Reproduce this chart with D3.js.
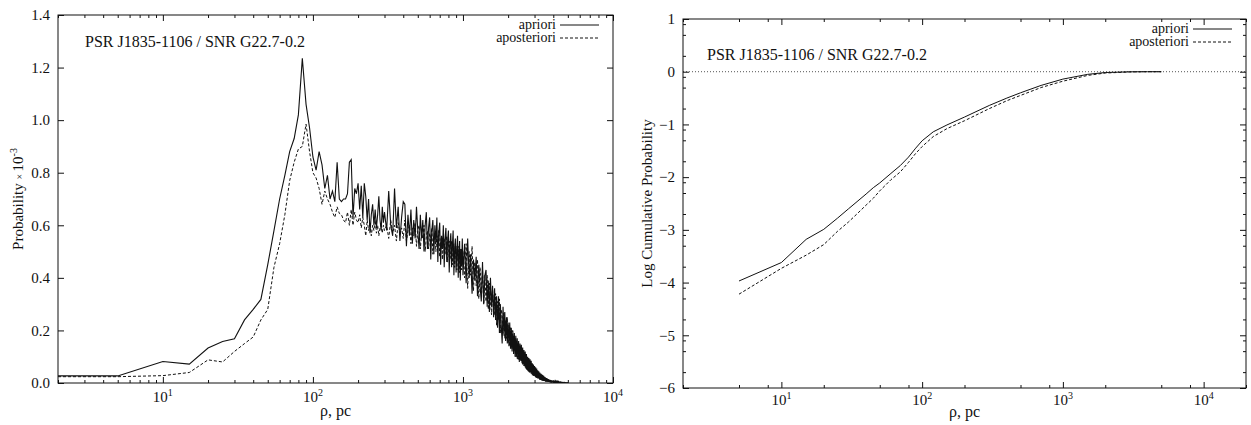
<!DOCTYPE html>
<html>
<head>
<meta charset="utf-8">
<script src="https://cdn.jsdelivr.net/npm/d3@7"></script>
<style>
  body { margin: 0; background: #fff; }
  svg text { font-family: "Liberation Serif", "DejaVu Serif", serif; fill: #111; }
</style>
</head>
<body>
<svg id="chart" width="1251" height="425" font-family="Liberation Serif, DejaVu Serif, serif"></svg>
<script>
// sampling grid of rho (pc) for the probability curves
var rhoFine = [2].concat(d3.range(5, 301, 5));
var rhoMid = d3.range(310, 1001, 10);
var rhoCoarse = d3.range(1025, 5001, 25);

// probability x 10^-3, apriori (solid)
var aprioriFine = [0.027, 0.027, 0.082, 0.072, 0.133, 0.158, 0.168, 0.24, 0.28, 0.318,
  0.45, 0.58, 0.70, 0.79, 0.88, 0.93, 1.02, 1.235, 1.06, 0.97,
  0.86, 0.81, 0.88, 0.83, 0.74, 0.79, 0.70, 0.73, 0.69, 0.84,
  0.70, 0.69, 0.70, 0.70, 0.72, 0.84, 0.85, 0.63, 0.74, 0.72,
  0.76, 0.66, 0.75, 0.63, 0.76, 0.71, 0.62, 0.70, 0.57, 0.64,
  0.68, 0.60, 0.66, 0.59, 0.64, 0.71, 0.62, 0.58, 0.67, 0.61, 0.65];
var aprioriMid = [0.58, 0.73, 0.60, 0.56, 0.74, 0.59, 0.67, 0.54, 0.63, 0.69,
  0.68, 0.52, 0.64, 0.56, 0.66, 0.53, 0.62, 0.55, 0.67, 0.58,
  0.51, 0.64, 0.55, 0.62, 0.50, 0.60, 0.65, 0.51, 0.59, 0.63,
  0.47, 0.58, 0.62, 0.49, 0.60, 0.53, 0.63, 0.46, 0.57, 0.61,
  0.45, 0.56, 0.51, 0.60, 0.44, 0.55, 0.59, 0.46, 0.54, 0.58,
  0.42, 0.53, 0.57, 0.44, 0.52, 0.58, 0.41, 0.51, 0.55, 0.42,
  0.50, 0.56, 0.40, 0.49, 0.54, 0.39, 0.51, 0.45, 0.55, 0.41];
var aprioriCoarse = [
  0.53, 0.38, 0.55, 0.40, 0.49, 0.34, 0.47, 0.39,
  0.48, 0.33, 0.45, 0.37, 0.31, 0.46, 0.30, 0.41,
  0.43, 0.29, 0.39, 0.27, 0.40, 0.29, 0.37, 0.25,
  0.36, 0.24, 0.33, 0.21, 0.33, 0.19, 0.30, 0.22,
  0.15, 0.29, 0.19, 0.27, 0.16, 0.25, 0.15, 0.23,
  0.14, 0.23, 0.13, 0.21, 0.12, 0.20, 0.11, 0.19,
  0.10, 0.18, 0.10, 0.17, 0.09, 0.16, 0.08, 0.15,
  0.085, 0.145, 0.075, 0.135, 0.07, 0.125, 0.065, 0.12,
  0.055, 0.11, 0.05, 0.10, 0.045, 0.095, 0.04, 0.09,
  0.04, 0.085, 0.035, 0.075, 0.03, 0.07, 0.028, 0.065,
  0.025, 0.06, 0.022, 0.055, 0.02, 0.048, 0.018, 0.045,
  0.015, 0.04, 0.013, 0.036, 0.012, 0.033, 0.01, 0.03,
  0.009, 0.027, 0.008, 0.024, 0.007, 0.021, 0.006, 0.019,
  0.005, 0.017, 0.004, 0.015, 0.004, 0.013, 0.003, 0.012,
  0.003, 0.011, 0.002, 0.010, 0.002, 0.009, 0.002, 0.008,
  0.001, 0.007, 0.001, 0.006, 0.001, 0.006, 0.0, 0.005,
  0.0, 0.005, 0.0, 0.004, 0.0, 0.004, 0.0, 0.003,
  0.0, 0.003, 0.0, 0.003, 0.0, 0.002, 0.0, 0.002,
  0.0, 0.002, 0.0, 0.001, 0.0, 0.002, 0.0, 0.001,
  0.0, 0.001, 0.0, 0.001, 0.0, 0.0, 0.001, 0.0];

// probability x 10^-3, aposteriori (dashed)
var aposterioriFine = [0.024, 0.024, 0.028, 0.040, 0.088, 0.080, 0.120, 0.150, 0.175, 0.240,
  0.280, 0.440, 0.530, 0.640, 0.770, 0.840, 0.890, 0.900, 0.985, 0.880,
  0.800, 0.780, 0.740, 0.680, 0.730, 0.700, 0.680, 0.650, 0.630, 0.670,
  0.645, 0.640, 0.620, 0.610, 0.650, 0.600, 0.660, 0.600, 0.650, 0.620,
  0.610, 0.640, 0.590, 0.630, 0.600, 0.560, 0.620, 0.580, 0.610, 0.560,
  0.600, 0.580, 0.620, 0.570, 0.600, 0.560, 0.590, 0.600, 0.570, 0.600, 0.580];
var aposterioriMid = [0.60, 0.55, 0.62, 0.57, 0.60, 0.54, 0.61, 0.57, 0.59, 0.55,
  0.62, 0.54, 0.58, 0.60, 0.53, 0.59, 0.56, 0.61, 0.52, 0.58,
  0.60, 0.51, 0.57, 0.55, 0.60, 0.50, 0.56, 0.58, 0.51, 0.57,
  0.54, 0.59, 0.49, 0.55, 0.57, 0.50, 0.56, 0.53, 0.58, 0.48,
  0.54, 0.56, 0.47, 0.53, 0.55, 0.49, 0.52, 0.56, 0.46, 0.52,
  0.54, 0.47, 0.50, 0.54, 0.45, 0.51, 0.53, 0.44, 0.49, 0.52,
  0.43, 0.50, 0.47, 0.52, 0.42, 0.49, 0.51, 0.43, 0.47, 0.50];
var aposterioriCoarse = [
  0.40, 0.53, 0.36, 0.50, 0.41, 0.52, 0.35, 0.46,
  0.37, 0.47, 0.32, 0.44, 0.35, 0.43, 0.30, 0.41,
  0.31, 0.41, 0.28, 0.38, 0.31, 0.26, 0.36, 0.28,
  0.26, 0.34, 0.22, 0.31, 0.24, 0.32, 0.19, 0.28,
  0.26, 0.18, 0.27, 0.17, 0.24, 0.17, 0.25, 0.15,
  0.22, 0.14, 0.21, 0.13, 0.20, 0.13, 0.18, 0.12,
  0.17, 0.10, 0.16, 0.09, 0.15, 0.09, 0.14, 0.085,
  0.14, 0.08, 0.13, 0.07, 0.12, 0.065, 0.11, 0.06,
  0.10, 0.05, 0.095, 0.045, 0.09, 0.04, 0.085, 0.04,
  0.075, 0.035, 0.07, 0.03, 0.065, 0.028, 0.06, 0.025,
  0.055, 0.022, 0.05, 0.02, 0.046, 0.018, 0.042, 0.016,
  0.038, 0.013, 0.034, 0.012, 0.031, 0.01, 0.028, 0.009,
  0.025, 0.008, 0.022, 0.007, 0.02, 0.006, 0.018, 0.005,
  0.016, 0.004, 0.014, 0.004, 0.012, 0.003, 0.011, 0.003,
  0.01, 0.002, 0.009, 0.002, 0.008, 0.001, 0.007, 0.001,
  0.006, 0.001, 0.005, 0.0, 0.005, 0.0, 0.004, 0.0,
  0.004, 0.0, 0.003, 0.0, 0.003, 0.0, 0.002, 0.0,
  0.002, 0.0, 0.002, 0.0, 0.001, 0.0, 0.001, 0.0,
  0.001, 0.0, 0.001, 0.0, 0.001, 0.0, 0.0, 0.0,
  0.0, 0.0, 0.001, 0.0, 0.0, 0.0, 0.0, 0.0];

// log cumulative probability (right panel)
var rhoCum = [5, 10, 15, 20, 25, 30, 35, 40, 45, 50, 60, 70, 80, 90, 100, 120, 150, 200, 300, 400, 500, 700, 1000, 1500, 2000, 3000, 4000, 5000];
var cumApriori = [-3.97, -3.62, -3.18, -2.99, -2.78, -2.60, -2.45, -2.32, -2.20, -2.11, -1.93, -1.78, -1.62, -1.45, -1.31, -1.14, -1.01, -0.86, -0.64, -0.50, -0.40, -0.26, -0.14, -0.05, -0.015, -0.002, 0, 0];
var cumAposteriori = [-4.22, -3.73, -3.48, -3.28, -3.03, -2.85, -2.68, -2.53, -2.40, -2.26, -2.05, -1.90, -1.72, -1.55, -1.42, -1.23, -1.08, -0.93, -0.70, -0.55, -0.45, -0.30, -0.18, -0.07, -0.025, -0.004, 0, 0];

var title = "PSR J1835-1106 / SNR G22.7-0.2";
var legendNames = ["apriori", "aposteriori"];
var probTicks = [0, 0.2, 0.4, 0.6, 0.8, 1.0, 1.2, 1.4];
var cumTicks = [-6, -5, -4, -3, -2, -1, 0, 1];
var decades = [1, 2, 3, 4];

function zip(xs, ys) {
  var n = Math.min(xs.length, ys.length);
  if (xs.length != ys.length) console.log("length mismatch", xs.length, ys.length);
  var out = [];
  for (var i = 0; i < n; i++) out.push([xs[i], ys[i]]);
  return out;
}

var apriori = zip(rhoFine, aprioriFine).concat(zip(rhoMid, aprioriMid), zip(rhoCoarse, aprioriCoarse));
var aposteriori = zip(rhoFine, aposterioriFine).concat(zip(rhoMid, aposterioriMid), zip(rhoCoarse, aposterioriCoarse));

var svg = d3.select("#chart");
var ink = "#111";

function drawLogX(g, x, top, bottom, minors, labelY) {
  var majors = decades.map(function(d) { return Math.pow(10, d); });
  var minorVals = [];
  [0, 1, 2, 3, 4].forEach(function(d) {
    minors.forEach(function(m) {
      var v = m * Math.pow(10, d);
      if (v >= x.domain()[0] && v <= x.domain()[1]) minorVals.push(v);
    });
  });
  [[d3.axisBottom, bottom], [d3.axisTop, top]].forEach(function(s) {
    g.append("g").attr("transform", "translate(0," + s[1] + ")")
      .call(s[0](x).tickValues(majors).tickSize(-6).tickFormat(""))
      .call(function(a) { a.select(".domain").remove(); a.selectAll("line").attr("stroke", ink); });
    g.append("g").attr("transform", "translate(0," + s[1] + ")")
      .call(s[0](x).tickValues(minorVals).tickSize(-3).tickFormat(""))
      .call(function(a) { a.select(".domain").remove(); a.selectAll("line").attr("stroke", ink); });
  });
  decades.forEach(function(d) {
    var t = g.append("text").attr("x", x(Math.pow(10, d))).attr("y", labelY)
      .attr("text-anchor", "middle").style("font-size", "15px");
    t.append("tspan").text("10");
    t.append("tspan").attr("dy", -6).style("font-size", "10px").text(d);
  });
}

function drawY(g, y, left, right, majors, minors, fmt) {
  [[d3.axisLeft, left], [d3.axisRight, right]].forEach(function(s) {
    g.append("g").attr("transform", "translate(" + s[1] + ",0)")
      .call(s[0](y).tickValues(majors).tickSize(-6).tickFormat(""))
      .call(function(a) { a.select(".domain").remove(); a.selectAll("line").attr("stroke", ink); });
    if (minors.length)
      g.append("g").attr("transform", "translate(" + s[1] + ",0)")
        .call(s[0](y).tickValues(minors).tickSize(-3).tickFormat(""))
        .call(function(a) { a.select(".domain").remove(); a.selectAll("line").attr("stroke", ink); });
  });
  majors.forEach(function(v) {
    g.append("text").attr("x", left - 8).attr("y", y(v)).attr("dy", "0.35em")
      .attr("text-anchor", "end").style("font-size", "15px").text(fmt(v));
  });
}

function legend(g, xEnd, y0) {
  legendNames.forEach(function(name, i) {
    var by = y0 + i * 13;
    g.append("text").attr("x", xEnd).attr("y", by).attr("text-anchor", "end")
      .style("font-size", "14px").text(name);
    g.append("line").attr("x1", xEnd + 4).attr("x2", xEnd + 43)
      .attr("y1", by - 4).attr("y2", by - 4)
      .attr("stroke", ink).attr("stroke-width", 1)
      .attr("stroke-dasharray", i == 1 ? "3,2" : null);
  });
}

// ---------- left panel ----------
var L = { left: 58, right: 613, top: 15, bottom: 383 };
var xL = d3.scaleLog().domain([2, 1e4]).range([L.left, L.right]);
var yL = d3.scaleLinear().domain([0, 1.4]).range([L.bottom, L.top]);
var gL = svg.append("g");

svg.append("clipPath").attr("id", "clipL").append("rect")
  .attr("x", L.left).attr("y", L.top).attr("width", L.right - L.left).attr("height", L.bottom - L.top);

var lineL = d3.line().x(function(d) { return xL(d[0]); }).y(function(d) { return yL(d[1]); });
gL.append("path").datum(aposteriori).attr("d", lineL).attr("fill", "none")
  .attr("stroke", ink).attr("stroke-width", 1).attr("stroke-dasharray", "3,2").attr("clip-path", "url(#clipL)");
gL.append("path").datum(apriori).attr("d", lineL).attr("fill", "none")
  .attr("stroke", ink).attr("stroke-width", 1.1).attr("clip-path", "url(#clipL)");

gL.append("rect").attr("x", L.left).attr("y", L.top).attr("width", L.right - L.left)
  .attr("height", L.bottom - L.top).attr("fill", "none").attr("stroke", ink);
drawLogX(gL, xL, L.top, L.bottom, [2, 3, 4, 5, 6, 7, 8, 9], 402);
drawY(gL, yL, L.left, L.right, probTicks, [], d3.format(".1f"));

gL.append("text").attr("x", 85).attr("y", 47).style("font-size", "16px").text(title);
legend(gL, 556, 29);

gL.append("text").attr("x", (L.left + L.right) / 2).attr("y", 416).attr("text-anchor", "middle")
  .style("font-size", "16px").text("ρ, pc");
var yt = gL.append("text").attr("transform", "translate(23," + ((L.top + L.bottom) / 2) + ") rotate(-90)")
  .attr("text-anchor", "middle").style("font-size", "15px");
yt.append("tspan").text("Probability ");
yt.append("tspan").style("font-size", "10px").text("× ");
yt.append("tspan").text("10");
yt.append("tspan").attr("dy", -6).style("font-size", "10px").text("-3");

// ---------- right panel ----------
var R = { left: 683, right: 1246, top: 19, bottom: 388 };
var xR = d3.scaleLog().domain([2, 2e4]).range([R.left, R.right]);
var yR = d3.scaleLinear().domain([-6, 1]).range([R.bottom, R.top]);
var gR = svg.append("g");

gR.append("line").attr("x1", R.left).attr("x2", R.right).attr("y1", yR(0)).attr("y2", yR(0))
  .attr("stroke", "#555").attr("stroke-width", 1).attr("stroke-dasharray", "1,2");

var lineR = d3.line().x(function(d) { return xR(d[0]); }).y(function(d) { return yR(d[1]); });
gR.append("path").datum(zip(rhoCum, cumAposteriori)).attr("d", lineR).attr("fill", "none")
  .attr("stroke", ink).attr("stroke-width", 1).attr("stroke-dasharray", "3,2");
gR.append("path").datum(zip(rhoCum, cumApriori)).attr("d", lineR).attr("fill", "none")
  .attr("stroke", ink).attr("stroke-width", 1);

gR.append("rect").attr("x", R.left).attr("y", R.top).attr("width", R.right - R.left)
  .attr("height", R.bottom - R.top).attr("fill", "none").attr("stroke", ink);
drawLogX(gR, xR, R.top, R.bottom, [2, 5, 8], 405);
var cumMinor = [];
cumTicks.slice(0, -1).forEach(function(v) {
  [Math.log10(2), Math.log10(5), Math.log10(8)].forEach(function(o) { cumMinor.push(v + o); });
});
drawY(gR, yR, R.left, R.right, cumTicks, cumMinor, d3.format("d"));

gR.append("text").attr("x", 707).attr("y", 60).style("font-size", "16px").text(title);
legend(gR, 1189, 33);

gR.append("text").attr("x", (R.left + R.right) / 2).attr("y", 417).attr("text-anchor", "middle")
  .style("font-size", "16px").text("ρ, pc");
gR.append("text").attr("transform", "translate(652," + ((R.top + R.bottom) / 2) + ") rotate(-90)")
  .attr("text-anchor", "middle").style("font-size", "15px").text("Log Cumulative Probability");
</script>
</body>
</html>
